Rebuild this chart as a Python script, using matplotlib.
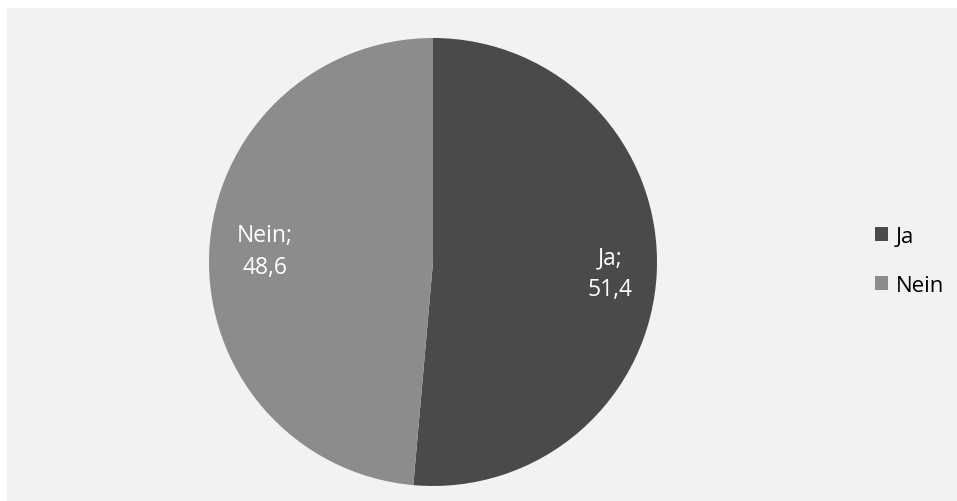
import matplotlib.pyplot as plt
from matplotlib.patches import Rectangle, Patch

# Data
categories = ["Ja", "Nein"]
values = [51.4, 48.6]
value_labels = ["51,4", "48,6"]
colors = ["#4a4a4a", "#8c8c8c"]

plt.rcParams['font.family'] = ['Open Sans', 'DejaVu Sans']

W, H = 957, 502
fig = plt.figure(figsize=(W / 100, H / 100), dpi=100)
fig.patch.set_facecolor("white")

# light grey chart panel
fig.patches.append(Rectangle((7 / W, 0), 1 - 7 / W, 1 - 9 / H,
                             transform=fig.transFigure, facecolor="#f2f2f2",
                             edgecolor="none", zorder=-5))

cx, cy, r = 433, 263, 224
ax = fig.add_axes([(cx - r) / W, (H - cy - r) / H, 2 * r / W, 2 * r / H])
ax.set_facecolor("none")
ax.set_zorder(2)

labels = [f"{c};\n{v}" for c, v in zip(categories, value_labels)]
wedges, texts = ax.pie(values, colors=colors, startangle=90, counterclock=False,
                       labels=labels, labeldistance=0.77,
                       wedgeprops=dict(linewidth=0),
                       textprops=dict(color="white", fontsize=16.5, linespacing=1.45))
# Excel-like label placement (slightly asymmetric)
label_pos = [(0.79, -0.05), (-0.75, 0.05)]
for t, p in zip(texts, label_pos):
    t.set_position(p)
    t.set_ha("center")
    t.set_va("center")
ax.set_xlim(-1, 1)
ax.set_ylim(-1, 1)
ax.set_aspect("equal")
ax.axis("off")

handles = [Patch(facecolor=c, edgecolor="none") for c in colors]
leg = fig.legend(handles, categories, loc="center left",
                 bbox_to_anchor=(855 / W, (H - 262) / H), frameon=False,
                 fontsize=16, handlelength=0.6, handleheight=0.6,
                 handletextpad=0.35, labelspacing=1.25)
leg.set_zorder(3)

fig.savefig("out.png", dpi=100)
